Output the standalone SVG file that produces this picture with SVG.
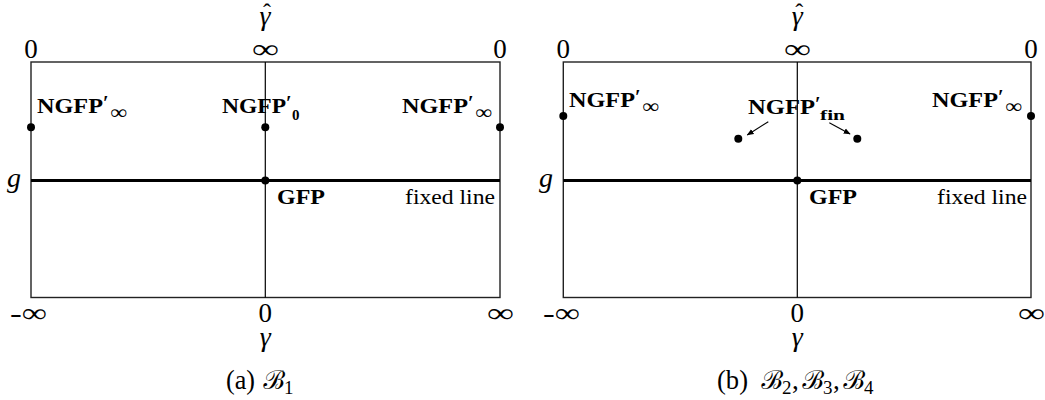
<svg xmlns="http://www.w3.org/2000/svg" width="1045" height="400" viewBox="0 0 1045 400">
<style>
.box{fill:none;stroke:#222;stroke-width:1.4}
.ax{stroke:#000;stroke-width:1.2}
.thick{stroke:#000;stroke-width:3.2}
.dot{fill:#000}
.lab{font-family:"Liberation Serif","DejaVu Serif",serif;font-size:27px;fill:#000}
.it{font-family:"Liberation Serif","DejaVu Serif",serif;font-style:italic;font-size:28px;fill:#000}
.hat{font-family:"Liberation Serif","DejaVu Serif",serif;font-size:24px;fill:#000}
.b{font-family:"Liberation Serif","DejaVu Serif",serif;font-weight:bold;font-size:20px;fill:#000}
.bs{font-family:"Liberation Serif","DejaVu Serif",serif;font-weight:bold;font-size:15px;fill:#000}
.sub{font-family:"Liberation Serif","DejaVu Serif",serif;font-size:20px;fill:#000}
.rm{font-family:"Liberation Serif","DejaVu Serif",serif;font-size:21px;fill:#000}
.cal{font-family:"DejaVu Serif","Noto Sans",serif;font-style:italic;font-size:26px;fill:#000}
.cap{font-family:"Liberation Serif","DejaVu Serif",serif;font-size:27px;fill:#000}
.cs{font-family:"Liberation Serif","DejaVu Serif",serif;font-size:19px;fill:#000}
.arr{stroke:#000;stroke-width:1.1;fill:none}
</style>
<defs>
<marker id="ah" viewBox="0 0 10 10" refX="9" refY="5" markerWidth="7" markerHeight="7" orient="auto" markerUnits="userSpaceOnUse">
<path d="M0,1 L10,5 L0,9 Z" fill="#000"/>
</marker>
</defs>

<!-- Panel (a) -->
<g id="panel-a">
<rect class="box" x="31" y="62" width="469" height="235.5"/>
<line class="ax" x1="265.3" y1="62" x2="265.3" y2="297.5"/>
<line class="thick" x1="31" y1="180.5" x2="500" y2="180.5"/>
<text class="lab" x="31" y="58" text-anchor="middle">0</text>
<text class="lab" x="252" y="58" textLength="27" lengthAdjust="spacingAndGlyphs">∞</text>
<text class="lab" x="500" y="58" text-anchor="middle">0</text>
<text class="it" x="265" y="25" text-anchor="middle">γ</text>
<text class="hat" x="267" y="20" text-anchor="middle">ˆ</text>
<text class="it" x="14" y="187" text-anchor="middle">g</text>
<text class="lab" x="10" y="322" textLength="37" lengthAdjust="spacingAndGlyphs">-∞</text>
<text class="lab" x="265.3" y="322" text-anchor="middle">0</text>
<text class="lab" x="487" y="322" textLength="27" lengthAdjust="spacingAndGlyphs">∞</text>
<text class="it" x="265.3" y="346" text-anchor="middle">γ</text>
<text class="cap" x="226" y="389" textLength="29" lengthAdjust="spacingAndGlyphs">(a)</text>
<text class="cal" x="263" y="389">ℬ</text>
<text class="cs" x="284" y="394">1</text>
</g>
<g id="a-ngfp-inf-left">
<circle class="dot" cx="31" cy="127.3" r="4"/>
<text class="b" x="37" y="113" textLength="66" lengthAdjust="spacingAndGlyphs">NGFP</text>
<text class="b" x="103" y="110">′</text>
<text class="sub" x="110" y="119" textLength="17" lengthAdjust="spacingAndGlyphs">∞</text>
</g>
<g id="a-ngfp-0">
<circle class="dot" cx="265.3" cy="127.3" r="4"/>
<text class="b" x="222" y="113" textLength="64" lengthAdjust="spacingAndGlyphs">NGFP</text>
<text class="b" x="286" y="110">′</text>
<text class="bs" x="292" y="120">0</text>
</g>
<g id="a-ngfp-inf-right">
<circle class="dot" cx="500" cy="127.3" r="4"/>
<text class="b" x="402" y="113" textLength="66" lengthAdjust="spacingAndGlyphs">NGFP</text>
<text class="b" x="468" y="110">′</text>
<text class="sub" x="475" y="119" textLength="17" lengthAdjust="spacingAndGlyphs">∞</text>
</g>
<g id="a-gfp">
<circle class="dot" cx="265.3" cy="180.5" r="4"/>
<text class="b" x="277" y="204" textLength="48" lengthAdjust="spacingAndGlyphs">GFP</text>
</g>
<text class="rm" x="405" y="204" textLength="90" lengthAdjust="spacingAndGlyphs">fixed line</text>

<!-- Panel (b) -->
<g id="panel-b">
<rect class="box" x="563.3" y="62" width="467.7" height="235.5"/>
<line class="ax" x1="797.3" y1="62" x2="797.3" y2="297.5"/>
<line class="thick" x1="563.3" y1="180.5" x2="1031" y2="180.5"/>
<text class="lab" x="563.3" y="58" text-anchor="middle">0</text>
<text class="lab" x="784" y="58" textLength="27" lengthAdjust="spacingAndGlyphs">∞</text>
<text class="lab" x="1031" y="58" text-anchor="middle">0</text>
<text class="it" x="797.3" y="25" text-anchor="middle">γ</text>
<text class="hat" x="799.3" y="20" text-anchor="middle">ˆ</text>
<text class="it" x="546" y="187" text-anchor="middle">g</text>
<text class="lab" x="543" y="322" textLength="37" lengthAdjust="spacingAndGlyphs">-∞</text>
<text class="lab" x="797.3" y="322" text-anchor="middle">0</text>
<text class="lab" x="1018" y="322" textLength="27" lengthAdjust="spacingAndGlyphs">∞</text>
<text class="it" x="797.3" y="346" text-anchor="middle">γ</text>
<text class="cap" x="717" y="389" textLength="31" lengthAdjust="spacingAndGlyphs">(b)</text>
<text class="cal" x="761" y="389">ℬ</text>
<text class="cs" x="782" y="394">2</text>
<text class="cap" x="792" y="389">,</text>
<text class="cal" x="802" y="389">ℬ</text>
<text class="cs" x="823" y="394">3</text>
<text class="cap" x="833" y="389">,</text>
<text class="cal" x="843" y="389">ℬ</text>
<text class="cs" x="864" y="394">4</text>
</g>
<g id="b-ngfp-inf-left">
<circle class="dot" cx="563.3" cy="116" r="4"/>
<text class="b" x="569" y="106.5" textLength="66" lengthAdjust="spacingAndGlyphs">NGFP</text>
<text class="b" x="635" y="103.5">′</text>
<text class="sub" x="642" y="112.5" textLength="17" lengthAdjust="spacingAndGlyphs">∞</text>
</g>
<g id="b-ngfp-inf-right">
<circle class="dot" cx="1031" cy="116" r="4"/>
<text class="b" x="932" y="106.5" textLength="66" lengthAdjust="spacingAndGlyphs">NGFP</text>
<text class="b" x="998" y="103.5">′</text>
<text class="sub" x="1005" y="112.5" textLength="17" lengthAdjust="spacingAndGlyphs">∞</text>
</g>
<g id="b-ngfp-fin">
<circle class="dot" cx="738.3" cy="138.7" r="4"/>
<circle class="dot" cx="857.3" cy="138.7" r="4"/>
<text class="b" x="748" y="114" textLength="67" lengthAdjust="spacingAndGlyphs">NGFP</text>
<text class="b" x="815" y="111">′</text>
<text class="bs" x="820" y="120" textLength="25" lengthAdjust="spacingAndGlyphs">fin</text>
</g>
<g id="b-gfp">
<circle class="dot" cx="797.3" cy="180.5" r="4"/>
<text class="b" x="809" y="204" textLength="48" lengthAdjust="spacingAndGlyphs">GFP</text>
</g>
<text class="rm" x="937" y="204" textLength="90" lengthAdjust="spacingAndGlyphs">fixed line</text>

<g id="connectors">
<line class="arr" x1="768.3" y1="121.7" x2="747.3" y2="135" marker-end="url(#ah)"/>
<line class="arr" x1="829.3" y1="122.7" x2="850" y2="134" marker-end="url(#ah)"/>
</g>
</svg>
